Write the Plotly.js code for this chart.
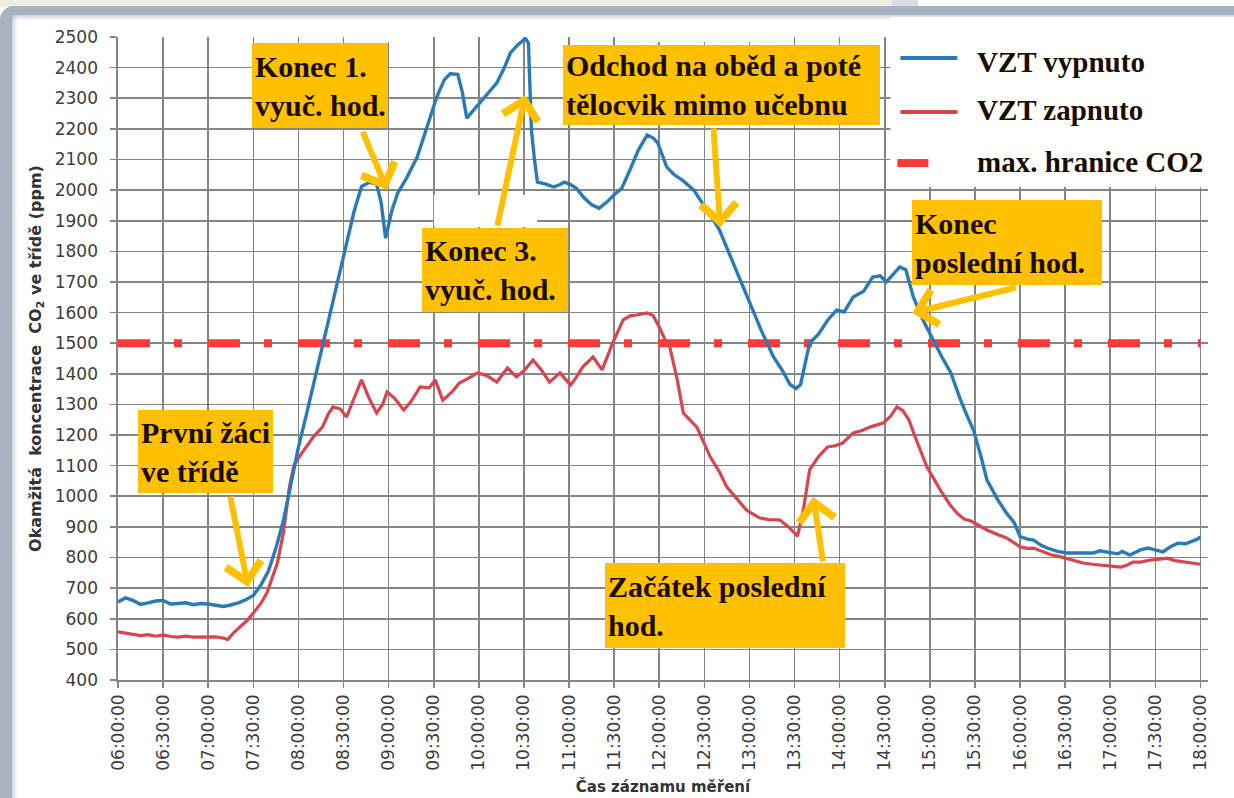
<!DOCTYPE html>
<html>
<head>
<meta charset="utf-8">
<script src="https://cdn.plot.ly/plotly-3.0.1.min.js"></script>
<style>
  html, body { margin:0; padding:0; background:#ffffff; }
  #wrap { position:relative; width:1234px; height:798px; overflow:hidden; background:#ffffff; }
  #band1 { position:absolute; left:0; top:0; width:892px; height:7px; background:#ECEEE1; }
  #band2 { position:absolute; left:892px; top:0; width:26px; height:7px; background:#DADDE1; }
  #frame { position:absolute; left:0; top:6px; width:1240px; height:800px; box-sizing:border-box;
           border-top:9px solid #A8B3C2; border-left:12px solid #A8B3C2; border-top-left-radius:14px;
           background:#ffffff; box-shadow: inset 2px 2px 4px rgba(120,135,155,0.45); }
  #chart { position:absolute; left:0; top:0; width:1234px; height:798px; }
</style>
</head>
<body>
<div id="wrap">
  <div id="band1"></div>
  <div id="band2"></div>
  <div id="frame"></div>
  <div id="chart"></div>
</div>
<script>
// ---- data ----
const blueTimes = ['06:00','06:05','06:10','06:15','06:20','06:25','06:30','06:35','06:40','06:45','06:50','06:55',
  '07:00','07:05','07:10','07:15','07:20','07:25','07:30','07:35','07:40','07:45','07:50','07:55',
  '08:00','08:05','08:10','08:15','08:19','08:25','08:31','08:37','08:42','08:47','08:52','08:55','08:58',
  '09:02','09:06','09:12','09:19','09:25','09:32','09:37','09:41','09:46','09:49','09:52','09:58',
  '10:05','10:12','10:17','10:21','10:26','10:31','10:33','10:35','10:37','10:39','10:44','10:50','10:54','10:57',
  '11:01','11:05','11:10','11:15','11:20','11:25','11:30','11:35','11:40','11:46','11:52','11:56','11:59',
  '12:05','12:10','12:16','12:23','12:30','12:35','12:40','12:46','12:52','12:58',
  '13:02','13:08','13:16','13:22','13:27','13:31','13:34','13:37','13:40','13:46','13:52','13:58',
  '14:03','14:09','14:16','14:22','14:27','14:31','14:35','14:40','14:44','14:49','14:55',
  '15:02','15:08','15:14','15:20','15:25','15:29','15:34','15:38','15:45','15:51','15:56',
  '16:00','16:05','16:09','16:14','16:18','16:25','16:31','16:40','16:49','16:53','16:58',
  '17:05','17:08','17:13','17:20','17:25','17:30','17:35','17:40','17:45','17:50','17:53','17:58','18:00'];
const blueValues = [655,668,660,647,652,658,660,648,650,652,646,650,
  648,645,640,645,652,662,676,710,755,830,920,1040,
  1160,1260,1365,1470,1553,1680,1804,1930,2012,2025,2020,1960,1843,
  1930,1990,2040,2108,2200,2304,2360,2380,2378,2320,2235,2270,
  2310,2350,2400,2448,2475,2495,2480,2196,2100,2026,2020,2010,2018,2026,
  2018,2005,1975,1952,1941,1960,1985,2005,2060,2130,2180,2170,2154,
  2075,2050,2030,2000,1950,1910,1870,1800,1730,1660,
  1608,1540,1455,1410,1365,1352,1365,1430,1500,1530,1575,1608,
  1602,1651,1670,1716,1720,1700,1722,1749,1740,1651,1580,
  1510,1455,1403,1320,1260,1216,1130,1053,990,945,915,
  868,860,857,840,831,820,815,815,815,822,818,
  812,820,808,825,831,825,818,835,847,845,851,860,868];

const redTimes = ['06:00','06:05','06:10','06:15','06:20','06:25','06:30','06:35','06:40','06:45','06:50','06:55',
  '07:00','07:05','07:10','07:13','07:17','07:21','07:26','07:30','07:35','07:39','07:43','07:46','07:50','07:54','07:57','07:59',
  '08:05','08:10','08:16','08:20','08:23','08:28','08:32','08:37','08:42','08:47','08:52','08:56','08:59',
  '09:04','09:10','09:15','09:21','09:27','09:31','09:36','09:42','09:47','09:53','09:59',
  '10:05','10:12','10:19','10:25','10:30','10:36','10:42','10:47','10:54',
  '11:01','11:05','11:09','11:16','11:22','11:29','11:36','11:41','11:45','11:52','11:56',
  '12:00','12:04','12:07','12:12','12:16','12:25','12:29','12:34','12:40','12:45','12:52','12:58',
  '13:03','13:07','13:13','13:20','13:26','13:32','13:36','13:40','13:46','13:52','13:57',
  '14:02','14:09','14:15','14:20','14:25','14:29','14:34','14:38','14:42','14:46','14:51','14:58',
  '15:07','15:13','15:18','15:23','15:27','15:32','15:38','15:45','15:51',
  '16:00','16:05','16:09','16:15','16:20','16:27','16:34','16:42','16:48','16:53',
  '17:00','17:07','17:11','17:15','17:20','17:27','17:33','17:38','17:43','17:49','17:55','18:00'];
const redValues = [557,553,550,545,548,543,547,542,540,543,540,541,
  540,541,537,532,555,573,595,619,650,684,740,782,880,1030,1100,1118,
  1160,1194,1226,1270,1292,1285,1259,1320,1380,1320,1272,1300,1341,
  1320,1282,1310,1357,1354,1380,1314,1340,1370,1385,1403,
  1395,1373,1419,1390,1410,1445,1410,1373,1403,
  1363,1390,1422,1455,1413,1500,1576,1590,1592,1599,1590,
  1553,1510,1488,1380,1272,1226,1180,1128,1080,1030,990,955,
  940,929,924,923,900,870,960,1086,1130,1161,1165,
  1174,1207,1215,1226,1232,1239,1262,1292,1280,1250,1184,1096,
  1020,975,945,925,920,905,890,875,864,
  835,830,831,818,810,802,792,782,778,776,
  772,769,775,785,785,792,795,798,790,785,782,778];

const limitTimes = ['06:00','18:00'];
const limitValue = 1500;

const seriesNames = ['VZT vypnuto','VZT zapnuto','max. hranice CO2'];
const yTitle = 'Okamžitá&nbsp;&nbsp;koncentrace&nbsp;&nbsp;CO<sub>2</sub> ve třídě (ppm)';
const xTitle = 'Čas záznamu měření';

const notes = [
  {text:'Konec 1.<br>vyuč. hod.', x:'07:29', y:2480, w:136, h:85},
  {text:'Konec 3.<br>vyuč. hod.', x:'09:22', y:1876, w:146, h:84},
  {text:'Odchod na oběd a poté<br>tělocvik mimo učebnu', x:'10:56', y:2474, w:317, h:80},
  {text:'Konec<br>poslední hod.', x:'14:48', y:1968, w:190, h:85},
  {text:'První žáci<br>ve třídě', x:'06:13', y:1282, w:135, h:83},
  {text:'Začátek poslední<br>hod.', x:'11:24', y:782, w:240, h:85}
];
const arrows = [
  {fromT:'08:42:20', fromV:2196, toT:'08:59:00', toV:2000},
  {fromT:'10:12:10', fromV:1879, toT:'10:30:50', toV:2311},
  {fromT:'12:36:00', fromV:2206, toT:'12:40:35', toV:1879},
  {fromT:'15:58:10', fromV:1683, toT:'14:48:20', toV:1599},
  {fromT:'07:14:30', fromV:1004, toT:'07:26:30', toV:704},
  {fromT:'13:49:00', fromV:782,  toT:'13:42:30', toV:998}
];

// ---- build ----
const day = t => '2024-01-01 ' + (t.length === 5 ? t + ':00' : t);
const BLUE = '#2A7AB8', RED = '#D9454C', LIMIT = '#FF3838', GOLD = '#FFC000';

const traces = [
  {x: limitTimes.map(day), y: limitTimes.map(() => limitValue), type:'scatter', mode:'lines',
   name: seriesNames[2], line:{color:LIMIT, width:8, dash:'32px,24px,8px,26px'}, hoverinfo:'skip'},
  {x: redTimes.map(day), y: redValues, type:'scatter', mode:'lines', name: seriesNames[1],
   line:{color:RED, width:3.2}},
  {x: blueTimes.map(day), y: blueValues, type:'scatter', mode:'lines', name: seriesNames[0],
   line:{color:BLUE, width:3.4}}
];

const annFont = {family:'"Liberation Serif", "Times New Roman", serif', size:30, color:'#1A0D00', weight:'bold'};
const annotations = [];
notes.forEach(n => annotations.push({
  xref:'x', yref:'y', x: day(n.x), y: n.y, xanchor:'left', yanchor:'top',
  text: n.text, showarrow:false, align:'left', valign:'middle',
  width: n.w - 6, height: n.h - 6, borderpad:3, borderwidth:0, bgcolor: GOLD, font: annFont
}));
arrows.forEach(a => annotations.push({
  xref:'x', yref:'y', x: day(a.toT), y: a.toV, axref:'x', ayref:'y', ax: day(a.fromT), ay: a.fromV,
  text:'', showarrow:true, arrowhead:4, arrowsize:1.15, arrowwidth:6, arrowcolor: GOLD, standoff:0
}));
// custom legend
const legFont = {family:'"Liberation Serif", "Times New Roman", serif', size:29, color:'#1A0D00', weight:'bold'};
const legY = [0.9611, 0.8865, 0.8056];
seriesNames.forEach((nm, i) => annotations.push({
  xref:'paper', yref:'paper', x:0.7866, y:legY[i], xanchor:'left', yanchor:'middle',
  text: nm, showarrow:false, font: legFont
}));

const shapes = [
  // white legend panel and small white patches that hide grid lines in the reference
  {type:'rect', xref:'paper', yref:'paper', x0:0.7086, x1:1.03, y0:0.7667, y1:1.031,
   fillcolor:'#ffffff', line:{width:0}, layer:'above'},
  {type:'rect', xref:'paper', yref:'paper', x0:0.2240, x1:0.2561, y0:0.9922, y1:1.009,
   fillcolor:'#ffffff', line:{width:0}, layer:'above'},
  {type:'rect', xref:'paper', yref:'paper', x0:0.4901, x1:0.6049, y0:0.9922, y1:1.009,
   fillcolor:'#ffffff', line:{width:0}, layer:'above'},
  {type:'rect', xref:'paper', yref:'paper', x0:0.2898, x1:0.3846, y0:0.7045, y1:0.7543,
   fillcolor:'#ffffff', line:{width:0}, layer:'above'},
  {type:'line', xref:'paper', yref:'paper', x0:0.7178, x1:0.7701, y0:0.9673, y1:0.9673, line:{color:BLUE, width:4}, layer:'above'},
  {type:'line', xref:'paper', yref:'paper', x0:0.7178, x1:0.7701, y0:0.8834, y1:0.8834, line:{color:RED, width:4}, layer:'above'},
  {type:'line', xref:'paper', yref:'paper', x0:0.7150, x1:0.7435, y0:0.8040, y1:0.8040, line:{color:LIMIT, width:8}, layer:'above'}
];

const tickFont = {family:'"DejaVu Sans", sans-serif', size:17, color:'#3C3C3C'};
const layout = {
  width:1234, height:798,
  margin:{l:118, r:26, t:37, b:118, pad:0},
  paper_bgcolor:'rgba(0,0,0,0)', plot_bgcolor:'#ffffff',
  showlegend:false,
  xaxis:{
    type:'date', range:[day('06:00'), day('18:05')], autorange:false,
    tick0: day('06:00'), dtick: 30*60*1000, tickformat:'%H:%M:%S', tickangle:-90,
    showgrid:true, gridcolor:'#858585', gridwidth:1.6,
    showline:true, linecolor:'#858585', linewidth:1.6,
    ticks:'outside', ticklen:6, tickcolor:'#858585', tickwidth:1.6,
    tickfont: tickFont, automargin:false, zeroline:false,
    title:{text: xTitle, standoff:12, font:{family:'"DejaVu Sans", sans-serif', size:15, color:'#333333', weight:'bold'}}
  },
  yaxis:{
    range:[400,2500], autorange:false, dtick:100, tick0:400,
    showgrid:true, gridcolor:'#858585', gridwidth:1.6,
    showline:true, linecolor:'#858585', linewidth:1.6,
    ticks:'outside', ticklen:6, tickcolor:'#858585', tickwidth:1.6,
    tickfont: tickFont, automargin:false, zeroline:false, ticklabelstandoff:9,
    title:{text: yTitle, standoff:9, font:{family:'"DejaVu Sans", sans-serif', size:16, color:'#333333', weight:'bold'}}
  },
  annotations: annotations,
  shapes: shapes
};

Plotly.newPlot('chart', traces, layout, {displayModeBar:false, staticPlot:true});
</script>
</body>
</html>
